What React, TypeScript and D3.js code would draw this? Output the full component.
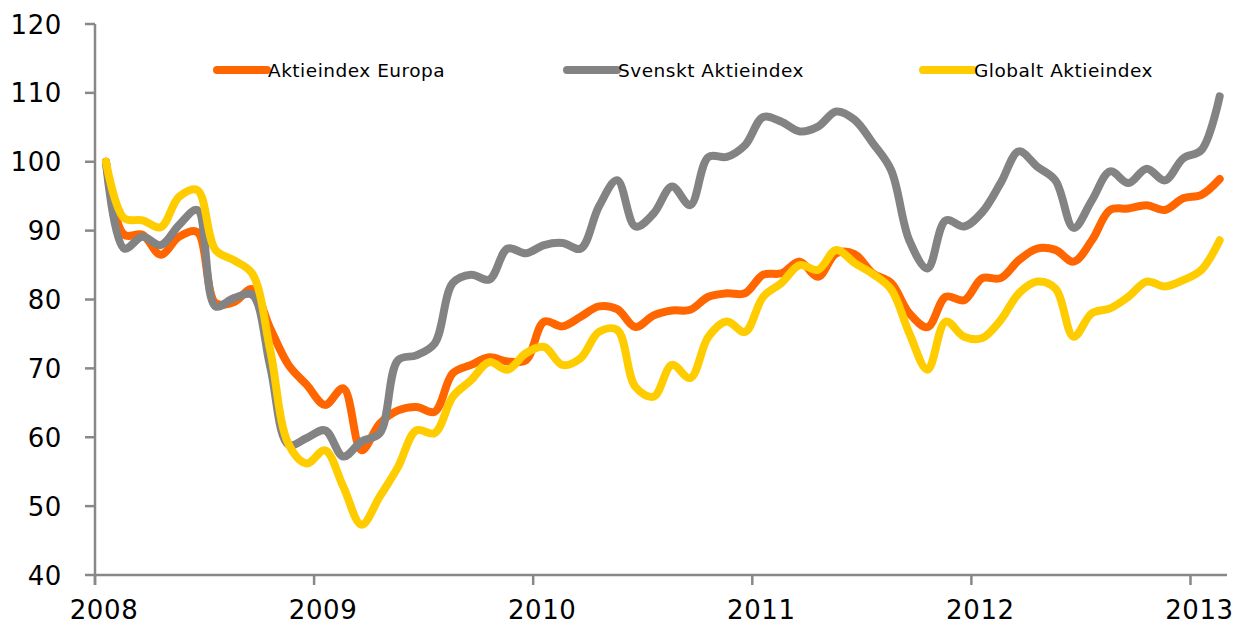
import React, { useEffect, useRef } from 'react'
import * as d3 from 'd3'

// månader från jan 2008 till feb 2013
const yearLabels = ['2008', '2009', '2010', '2011', '2012', '2013']
const yTicks = [40, 50, 60, 70, 80, 90, 100, 110, 120]

const europa = [
    100, 89.4, 89.4, 86.5, 89.1, 89.8, 79.5, 79.6, 81.5, 75.8, 70.5, 67.6,
    64.7, 67.1, 58.1, 62, 63.9, 64.4, 63.7, 69.3, 70.5, 71.6, 71, 71.2,
    76.8, 76.1, 77.5, 79, 78.6, 76, 77.7, 78.4, 78.5, 80.4, 80.9, 80.9,
    83.6, 83.8, 85.5, 83.3, 86.7, 86.6, 83.8, 82.4, 78, 76, 80.4, 79.9,
    83.1, 83.1, 85.7, 87.4, 87.2, 85.5, 88.6, 93, 93.2, 93.7, 93, 94.7,
    95.2, 97.5
]
const svenskt = [
    100, 87.4, 89.1, 87.9, 90.8, 93, 79, 80.2, 80.7, 70.2, 58.9, 59.9,
    61, 57.2, 59.4, 60.6, 71.2, 71.9, 73.6, 82.4, 83.6, 82.9, 87.4, 86.7,
    87.9, 88.2, 87.4, 93.5, 97.3, 90.6, 92.5, 96.4, 93.7, 100.7, 100.7, 102.4,
    106.5, 105.8, 104.4, 105.1, 107.3, 106.1, 102.7, 98.8, 88.6, 84.5, 91.5, 90.6,
    92.7, 96.9, 101.5, 99.3, 97.3, 90.4, 94.4, 98.6, 96.9, 99, 97.3, 100.5,
    101.7, 109.5
]
const globalt = [
    100, 91.8, 91.5, 90.5, 94.9, 95.9, 87.2, 85.7, 83.8, 72.6, 59, 56.2,
    58.1, 52.8, 47.3, 51.4, 55.7, 61, 60.6, 65.9, 68.3, 70.9, 69.8, 72.2,
    73.1, 70.5, 71.5, 75.3, 75.6, 67.3, 65.9, 70.5, 68.6, 74.6, 76.8, 75.3,
    80.4, 82.4, 85, 84.3, 87.2, 85.3, 83.7, 81.5, 75.1, 69.8, 76.8, 74.6,
    74.4, 77, 80.9, 82.6, 81.6, 74.6, 78, 78.7, 80.4, 82.6, 81.9, 82.8,
    84.3, 88.6
]

const seriesNames = ['Aktieindex Europa', 'Svenskt Aktieindex', 'Globalt Aktieindex']
const seriesColors = ['#FF6600', '#838383', '#FFCC00']

const LineChart = () => {
    const ref = useRef<SVGSVGElement | null>(null)

    const drawChart = () => {
        const svg = d3.select(ref.current)
        svg.selectAll('*').remove()

        const left = 95, right = 1227, top = 24, bottom = 575
        const axisColor = '#888888'
        const font = 'DejaVu Sans, Verdana, sans-serif'

        const x = d3.scaleLinear().domain([0, 62]).range([left, right])
        const y = d3.scaleLinear().domain([40, 120]).range([bottom, top])

        // y-axel
        const yAxis = svg.append('g')
        yAxis.append('line')
            .attr('x1', left).attr('x2', left)
            .attr('y1', y(120)).attr('y2', bottom + 10)
            .attr('stroke', axisColor).attr('stroke-width', 2.5)
        yAxis.selectAll('line.tick').data(yTicks).enter().append('line')
            .attr('class', 'tick')
            .attr('x1', left - 10).attr('x2', left)
            .attr('y1', d => y(d)).attr('y2', d => y(d))
            .attr('stroke', axisColor).attr('stroke-width', 2.5)
        yAxis.selectAll('text').data(yTicks).enter().append('text')
            .attr('x', 62)
            .attr('y', d => y(d) + 9.5)
            .attr('text-anchor', 'end')
            .style('font-family', font)
            .style('font-size', '26px')
            .style('letter-spacing', '0.6px')
            .attr('fill', '#000')
            .text(d => d)

        // x-axel
        const xAxis = svg.append('g')
        xAxis.append('line')
            .attr('x1', left).attr('x2', right)
            .attr('y1', bottom).attr('y2', bottom)
            .attr('stroke', axisColor).attr('stroke-width', 2.5)
        xAxis.selectAll('line.tick').data(yearLabels).enter().append('line')
            .attr('class', 'tick')
            .attr('x1', (d, i) => x(i * 12)).attr('x2', (d, i) => x(i * 12))
            .attr('y1', bottom).attr('y2', bottom + 10)
            .attr('stroke', axisColor).attr('stroke-width', 2.5)
        xAxis.selectAll('text').data(yearLabels).enter().append('text')
            .attr('x', (d, i) => x(i * 12) + 9)
            .attr('y', 619)
            .attr('text-anchor', 'middle')
            .style('font-family', font)
            .style('font-size', '26px')
            .style('letter-spacing', '0.6px')
            .attr('fill', '#000')
            .text(d => d)

        // linjer
        const line = d3.line<number>()
            .x((d, i) => x(i + 0.6))
            .y(d => y(d))
            .curve(d3.curveCatmullRom.alpha(0.5))

        const allSeries = [europa, svenskt, globalt]
        svg.append('g').selectAll('path').data(allSeries).enter().append('path')
            .attr('d', d => line(d))
            .attr('fill', 'none')
            .attr('stroke', (d, i) => seriesColors[i])
            .attr('stroke-width', 8)
            .attr('stroke-linecap', 'round')
            .attr('stroke-linejoin', 'round')

        // legend
        const legendX = [217, 567, 923]
        const legend = svg.append('g').selectAll('g').data(seriesNames).enter().append('g')
            .attr('transform', (d, i) => `translate(${legendX[i]},70)`)
        legend.append('line')
            .attr('x1', 0).attr('x2', 50)
            .attr('y1', 0).attr('y2', 0)
            .attr('stroke', (d, i) => seriesColors[i])
            .attr('stroke-width', 8)
            .attr('stroke-linecap', 'round')
        legend.append('text')
            .attr('x', 51)
            .attr('y', 6.5)
            .style('font-family', font)
            .style('font-size', '18.5px')
            .style('letter-spacing', '0.5px')
            .attr('fill', '#000')
            .text(d => d)
    }

    useEffect(() => {
        drawChart()
    }, [])

    return (
        <svg ref={ref} width={1238} height={625}
            style={{ position: 'absolute', left: 0, top: 0, background: '#fff' }} />
    )
}

export default function App() {
    return <LineChart />
}
